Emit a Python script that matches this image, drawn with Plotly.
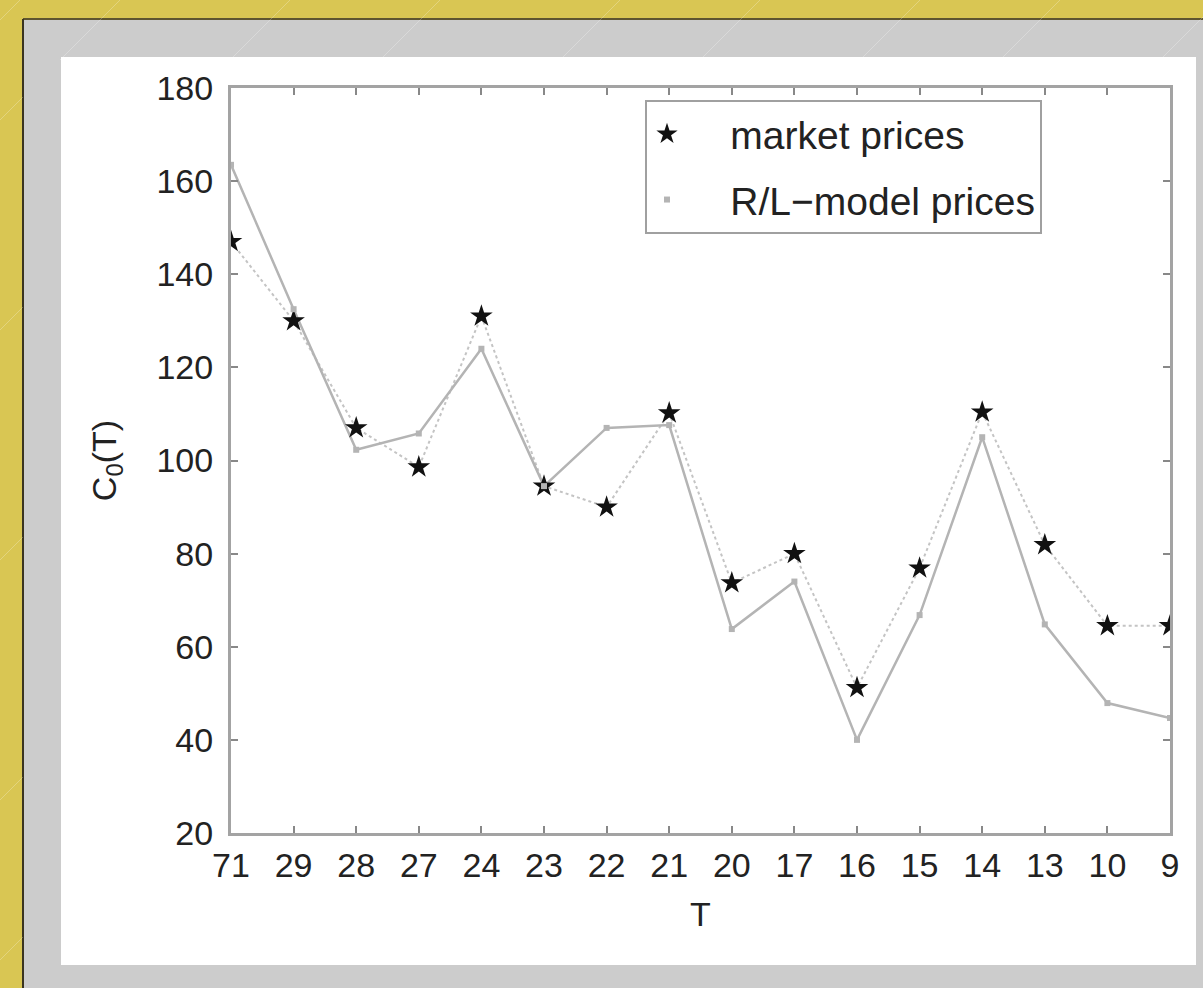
import plotly.graph_objects as go

# maturity labels (T) along the horizontal axis
maturities = ["71", "29", "28", "27", "24", "23", "22", "21", "20", "17", "16", "15", "14", "13", "10", "9"]

# observed option prices C0(T)
market_prices = [147, 130, 107, 98.6, 131, 94.5, 90, 110.2, 73.7, 80, 51.2, 76.9, 110.4, 81.9, 64.5, 64.5]

# prices produced by the R/L model
model_prices = [163.5, 132.5, 102.3, 105.8, 124, 94.5, 107, 107.6, 63.8, 74, 40, 66.8, 105, 64.8, 47.9, 44.7]

y_ticks = [20, 40, 60, 80, 100, 120, 140, 160, 180]

W, H = 1203, 988
AX_L, AX_R, AX_T, AX_B = 231, 1170, 88, 833


def px(xp):
    return (xp - AX_L) / (AX_R - AX_L)


def py(yp):
    return (AX_B - yp) / (AX_B - AX_T)


idx = list(range(len(maturities)))
font_family = "Liberation Sans, Arial, sans-serif"
text_color = "#222222"
axis_color = "#a3a3a3"
gap = "\u00a0" * 4  # space between legend symbol and label

fig = go.Figure()

# connecting lines (no legend entries)
fig.add_trace(go.Scatter(
    x=idx, y=market_prices, mode="lines",
    line=dict(color="#c4c4c4", width=2, dash="dot"),
    showlegend=False, hoverinfo="skip",
))
fig.add_trace(go.Scatter(
    x=idx, y=model_prices, mode="lines",
    line=dict(color="#b4b4b4", width=2.5),
    showlegend=False, hoverinfo="skip",
))

# markers with legend entries
fig.add_trace(go.Scatter(
    x=idx, y=market_prices, mode="markers", name=gap + "market prices",
    marker=dict(symbol="star", size=17, color="#111111", line=dict(width=0)),
    legendgroup="a",
))
fig.add_trace(go.Scatter(
    x=idx, y=model_prices, mode="markers", name=gap + "R/L\u2212model prices",
    marker=dict(symbol="square", size=6, color="#b4b4b4", line=dict(width=0)),
    legendgroup="b",
))

shapes = [
    # grey panel
    dict(type="rect", xref="paper", yref="paper", layer="below",
         x0=px(23), x1=px(W + 5), y0=py(H + 5), y1=py(19),
         fillcolor="#cccccc", line=dict(width=0)),
    # dark edge of the panel
    dict(type="line", xref="paper", yref="paper", layer="below",
         x0=px(23), x1=px(W + 5), y0=py(19), y1=py(19),
         line=dict(color="#5e5530", width=2)),
    dict(type="line", xref="paper", yref="paper", layer="below",
         x0=px(23), x1=px(23), y0=py(19), y1=py(H + 5),
         line=dict(color="#3a3420", width=2)),
    # white figure area
    dict(type="rect", xref="paper", yref="paper", layer="below",
         x0=px(61), x1=px(1196), y0=py(965), y1=py(57),
         fillcolor="#ffffff", line=dict(width=0)),
]

# faint diagonal streaks on the gold frame
for x0 in [-40, 60, 230, 380, 560, 700, 860, 1000, 1160]:
    shapes.append(dict(type="line", xref="paper", yref="paper", layer="below",
                       x0=px(x0), x1=px(x0 + 60), y0=py(60), y1=py(0),
                       line=dict(color="rgba(255,255,255,0.25)", width=1)))
for y0 in [120, 330, 560, 800, 960]:
    shapes.append(dict(type="line", xref="paper", yref="paper", layer="below",
                       x0=px(0), x1=px(23), y0=py(y0), y1=py(y0 - 23),
                       line=dict(color="rgba(255,255,255,0.25)", width=1)))

fig.update_layout(
    width=W, height=H,
    margin=dict(l=AX_L, r=W - AX_R, t=AX_T, b=H - AX_B, pad=0),
    paper_bgcolor="#d9c653",
    plot_bgcolor="#ffffff",
    font=dict(family=font_family, color=text_color, size=34),
    shapes=shapes,
    showlegend=True,
    legend=dict(
        x=px(645), y=py(100), xanchor="left", yanchor="top",
        bgcolor="#ffffff", bordercolor="#a0a0a0", borderwidth=2,
        font=dict(size=39, family=font_family, color=text_color),
        tracegroupgap=12, traceorder="grouped",
        itemwidth=30,
    ),
    xaxis=dict(
        type="category", range=[0, len(maturities) - 1],
        tickmode="array", tickvals=idx, ticktext=maturities,
        ticks="inside", ticklen=7, tickwidth=2, tickcolor="#888888",
        showline=True, linecolor=axis_color, linewidth=3, mirror="ticks",
        showgrid=False, zeroline=False,
        tickfont=dict(size=34),
        title=dict(text="T", font=dict(size=34), standoff=20),
    ),
    yaxis=dict(
        range=[20, 180], tickmode="array", tickvals=y_ticks,
        ticks="inside", ticklen=7, tickwidth=2, tickcolor="#888888",
        showline=True, linecolor=axis_color, linewidth=3, mirror="ticks",
        showgrid=False, zeroline=False,
        tickfont=dict(size=34), ticklabelstandoff=8,
        title=dict(text="C<sub>0</sub>(T)", font=dict(size=34), standoff=30),
    ),
)

fig.write_html("out.html")
